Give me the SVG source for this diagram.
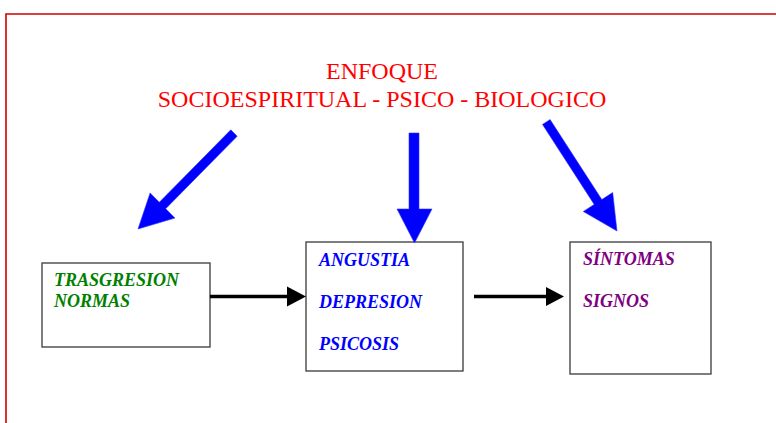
<svg xmlns="http://www.w3.org/2000/svg" width="776" height="423" viewBox="0 0 776 423">
  <style>
    .title { font-family: "Liberation Serif", "Times New Roman", serif; font-size: 24px; fill: #ff0000; text-anchor: middle; }
    .lbl { font-family: "Liberation Serif", "Times New Roman", serif; font-size: 18px; font-weight: bold; font-style: italic; }
    .box { fill: #ffffff; stroke: #3a3a3a; stroke-width: 1.3; }
    .big { fill: #0000ff; stroke: #3333ff; stroke-width: 0.6; stroke-linejoin: miter; }
    .link { stroke: #000000; stroke-width: 3.3; fill: none; }
    .head { fill: #000000; }
  </style>

  <rect width="776" height="423" fill="#ffffff"/>
  <!-- page frame -->
  <path d="M6,423 V14 H776" fill="none" stroke="#cc0000" stroke-width="1.6"/>

  <g id="titulo">
    <text class="title" x="382" y="79">ENFOQUE</text>
    <text class="title" x="382" y="107">SOCIOESPIRITUAL - PSICO - BIOLOGICO</text>
  </g>

  <g id="trasgresion">
    <rect class="box" x="42" y="263" width="168" height="84"/>
    <text class="lbl" x="54" y="286" fill="#008000">TRASGRESION</text>
    <text class="lbl" x="54" y="307" fill="#008000">NORMAS</text>
  </g>

  <g id="trastornos">
    <rect class="box" x="306" y="242" width="157" height="129"/>
    <text class="lbl" x="319" y="266" fill="#0000ff">ANGUSTIA</text>
    <text class="lbl" x="319" y="308" fill="#0000ff">DEPRESION</text>
    <text class="lbl" x="319" y="350" fill="#0000ff">PSICOSIS</text>
  </g>

  <g id="manifestaciones">
    <rect class="box" x="570" y="242" width="141" height="132"/>
    <text class="lbl" x="583" y="265" fill="#800080">SÍNTOMAS</text>
    <text class="lbl" x="583" y="307" fill="#800080">SIGNOS</text>
  </g>

  <g id="conectores">
    <!-- broad blue arrows from the approach title -->
    <polygon class="big" points="230.8,129.8 159.3,202.3 150.1,192.9 138,229 174.9,218.1 165.7,208.7 237.2,136.2"/>
    <polygon class="big" points="409,133 419,133 419,209 432,209 414.5,243 397,209 409,209"/>
    <polygon class="big" points="550.1,119.6 601.8,199.6 612.7,192.5 617,231 583.3,211.5 594.2,204.4 542.5,124.4"/>

    <!-- flow between boxes -->
    <line class="link" x1="210" y1="296.5" x2="289" y2="296.5"/>
    <polygon class="head" points="287,286.5 306,296.5 287,306.5"/>
    <line class="link" x1="474" y1="296.5" x2="548" y2="296.5"/>
    <polygon class="head" points="546,287 564,296.5 546,306"/>
  </g>
</svg>
